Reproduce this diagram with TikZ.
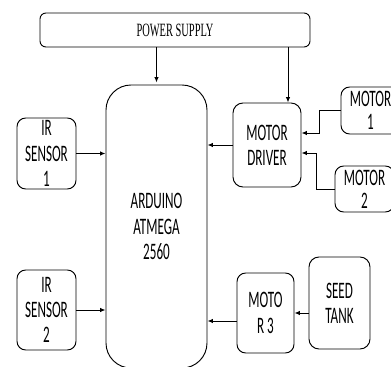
\documentclass[tikz,border=0pt]{standalone}
\usepackage{graphicx}
\usepackage{fontspec}
\setmainfont{Carlito}
\newfontfamily\psfont{Liberation Serif}
\usetikzlibrary{arrows.meta}
\newcommand\tall[1]{\scalebox{1}[1.8]{#1}}
\tikzset{
	blk/.style={draw, line width=0.8pt, rounded corners=2.6mm, align=center, inner sep=0pt,
		font=\fontsize{11.2}{21.5}\selectfont},
	arr/.style={line width=0.8pt, -{Latex[length=1.6mm,width=1.3mm]}}
}

\begin{document}
\begin{tikzpicture}[x=0.3mm, y=-0.3mm]
		\clip (0,0) rectangle (391,367);
		\node[blk, rounded corners=1.8mm, minimum width=81mm, minimum height=10.2mm, font=\psfont\fontsize{8.9}{10}\selectfont] (ps) at (175,30) {\tall{POWER SUPPLY}};
		\node[blk, rounded corners=7.5mm, minimum width=30.3mm, minimum height=84.9mm] (ard) at (156.5,226.5) {\tall{ARDUINO}\\ \tall{ATMEGA}\\ \tall{2560}};
		\node[blk, minimum width=17.7mm, minimum height=21.3mm] (ir1) at (46.5,153.5) {\tall{IR}\\ \tall{SENSOR}\\ \tall{1}};
		\node[blk, minimum width=17.7mm, minimum height=24mm] (ir2) at (46.5,310) {\tall{IR}\\ \tall{SENSOR}\\ \tall{2}};
		\node[blk, rounded corners=3mm, minimum width=20.4mm, minimum height=25.2mm] (drv) at (267,145) {\tall{MOTOR}\\ \tall{DRIVER}};
		\node[blk, minimum width=17.7mm, minimum height=14.1mm] (m1) at (370.5,110.5) {\tall{MOTOR}\\[-2pt] \tall{1}};
		\node[blk, minimum width=17.7mm, minimum height=13.8mm] (m2) at (364.5,189) {\tall{MOTOR}\\[-2pt] \tall{2}};
		\node[blk, minimum width=17.1mm, minimum height=24mm] (m3) at (265.5,313) {\tall{MOTO}\\ \tall{R 3}};
		\node[blk, rounded corners=3mm, minimum width=18.3mm, minimum height=27.6mm] (tank) at (339.5,303) {\tall{SEED}\\ \tall{TANK}};
		\coordinate (drvin) at ([xshift=6.3mm]drv.north);
		\draw[arr] (ard.north |- ps.south) -- ([yshift=0.6mm]ard.north);
		\draw[arr] (drvin |- ps.south) -- (drvin);
		\draw[arr] (ir1.east) -- (ir1.east -| ard.west);
		\draw[arr] (ir2.east) -- (ir2.east -| ard.west);
		\draw[arr] (drv.west) -- (drv.west -| ard.east);
		\draw[arr] ([yshift=-2.4mm]m3.west) -- ([yshift=-2.4mm]m3.west -| ard.east);
		\draw[arr] (m3.east -| tank.west) -- (m3.east);
		\draw[arr] (m1.west) -- ++(-21,0) |- ([yshift=3.6mm]drv.east);
		\draw[arr] (m2.west) -- ++(-18,0) |- ([yshift=-2.4mm]drv.east);
		\end{tikzpicture}
\end{document}
